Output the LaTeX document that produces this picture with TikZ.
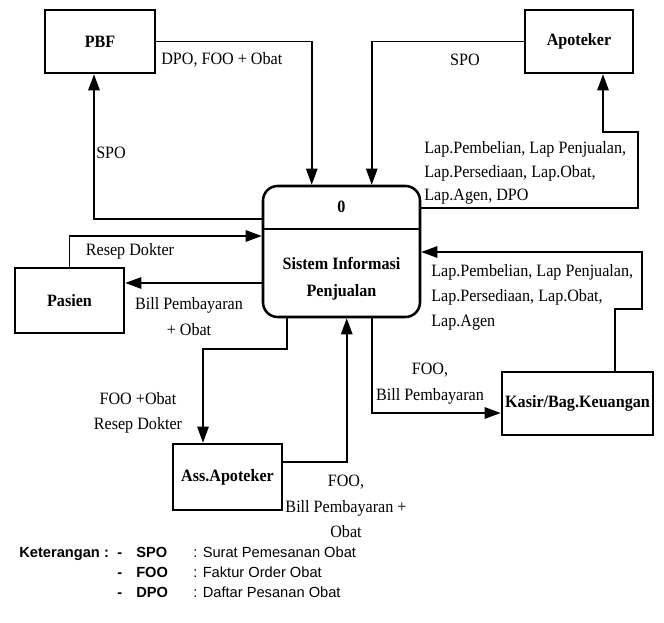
\documentclass[tikz,border=0pt]{standalone}
\usepackage{fontspec}
\setmainfont{Liberation Serif}[FakeStretch=0.93]
\newfontfamily\ketfont{Liberation Sans}
\usetikzlibrary{arrows.meta,calc}

\begin{document}
\begin{tikzpicture}[x=0.75pt,y=-0.75pt,>={Triangle[length=12pt,width=8.5pt]},
    font=\fontsize{13}{19}\selectfont,
    entity/.style={draw,line width=1.9pt,inner sep=0pt,font=\fontsize{13}{16}\selectfont\bfseries},
    flow/.style={->,line width=1.3pt},
    lbl/.style={inner sep=0pt,align=center},
    ket/.style={inner sep=0pt,anchor=base west,font=\ketfont\fontsize{11}{13}\selectfont}]

    \useasboundingbox (0,0) rectangle (664,623);

    % External entities
    \node [entity,minimum width=82.5pt,minimum height=47.25pt] (pbf) at (100,41.5) {PBF};
    \node [entity,minimum width=81pt,minimum height=47.25pt] (apoteker) at (579,41.5) {Apoteker};
    \node [entity,minimum width=81.75pt,minimum height=48.75pt] (pasien) at (69.5,300.5) {Pasien};
    \node [entity,minimum width=113.25pt,minimum height=47.25pt] (kasir) at (577.5,403.5) {Kasir/Bag.Keuangan};
    \node [entity,minimum width=81.75pt,minimum height=49.5pt] (assapt) at (227.5,477) {Ass.Apoteker};

    % Process 0
    \node [draw,line width=1.9pt,rounded corners=11pt,minimum width=117.75pt,minimum height=98.25pt] (proses) at (341.5,251.5) {};
    \draw [line width=1.9pt] ($(proses.west)+(0,-22.5)$) -- ($(proses.east)+(0,-22.5)$);
    \node [font=\fontsize{13}{20}\selectfont\bfseries] (pnum) at (341.5,207) {0};
    \node [align=center,font=\fontsize{13}{20}\selectfont\bfseries] (pnama) at (341.5,278.5) {Sistem Informasi\\Penjualan};

    % PBF <-> process
    \draw [flow] (pbf.east) -| ($(proses.north west)+(50,0)$);
    \node [lbl,anchor=west] (l1) at (161,60) {DPO, FOO + Obat};
    \draw [flow] ($(proses.west)+(0,-32.5)$) -| ($(pbf.south)+(-6,0)$);
    \node [lbl,anchor=west] (l2) at (96,153) {SPO};

    % Apoteker <-> process
    \draw [flow] (apoteker.west) -| ($(proses.north west)+(110,0)$);
    \node [lbl] (l3) at (465,60) {SPO};
    \draw [flow] ($(proses.east)+(0,-43.5)$) -- ++(217,0) -- ++(0,-76) -| ($(apoteker.south)+(24,0)$);
    \node [lbl,anchor=west,align=left,font=\fontsize{13}{17.5}\selectfont] (l4) at (424,173) {Lap.Pembelian, Lap Penjualan,\\Lap.Persediaan, Lap.Obat,\\Lap.Agen, DPO};

    % Pasien <-> process
    \draw [flow] (pasien.north) |- ($(proses.west)+(0,-15.5)$);
    \node [lbl] (l5) at (130,251) {Resep Dokter};
    \draw [flow] ($(proses.west)+(0,31.5)$) -- ($(pasien.east)+(0,-17.5)$);
    \node [lbl] (l6) at (189,316.5) {Bill Pembayaran\\+ Obat};

    % Ass.Apoteker <-> process
    \draw [flow] ($(proses.south west)+(25,0)$) -- ++(0,31) -| ($(assapt.north)+(-24.5,0)$);
    \node [lbl] (l7) at (138,413) {FOO +Obat\\Resep Dokter};
    \draw [flow] ($(assapt.east)+(0,-15)$) -| ($(proses.south west)+(85,0)$);
    \node [lbl] (l8) at (346,506.5) {FOO,\\Bill Pembayaran +\\Obat};

    % Kasir <-> process
    \draw [flow] ($(kasir.north)+(37.5,0)$) -- ++(0,-62) -- ++(27,0) |- ($(proses.east)+(0,0.5)$);
    \node [lbl,anchor=west,align=left] (l9) at (431,297.5) {Lap.Pembelian, Lap Penjualan,\\Lap.Persediaan, Lap.Obat,\\Lap.Agen};
    \draw [flow] ($(proses.south west)+(110,0)$) |- ($(kasir.west)+(0,9.5)$);
    \node [lbl] (l10) at (430,383.5) {FOO,\\Bill Pembayaran};

    % Keterangan
    \node [ket,font=\ketfont\fontsize{11}{13}\selectfont\bfseries] (ket) at (19,557.5) {Keterangan :};
    \foreach \singkat/\arti [count=\i] in {SPO/Surat Pemesanan Obat,FOO/Faktur Order Obat,DPO/Daftar Pesanan Obat} {
        \node [ket,font=\ketfont\fontsize{11}{13}\selectfont\bfseries] (d\i) at (117,537.5+20*\i) {-};
        \node [ket,font=\ketfont\fontsize{11}{13}\selectfont\bfseries] (s\i) at (136,537.5+20*\i) {\singkat};
        \node [ket] (a\i) at (193,537.5+20*\i) {: \arti};
    }

\end{tikzpicture}
\end{document}
